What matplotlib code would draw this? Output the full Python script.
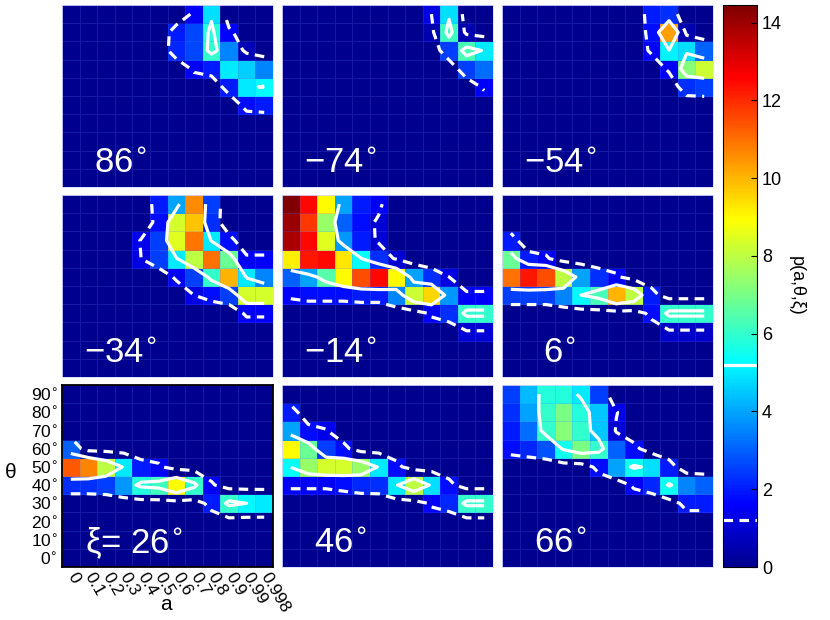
import numpy as np
import matplotlib
matplotlib.use('Agg')
import matplotlib.pyplot as plt
from matplotlib.colors import Normalize, LinearSegmentedColormap
from matplotlib.cm import ScalarMappable

plt.rcParams['font.family'] = ['Liberation Sans', 'DejaVu Sans']

# ---------------- data ----------------
a_labels = ['0', '0.1', '0.2', '0.3', '0.4', '0.5', '0.6', '0.7', '0.8', '0.9', '0.99', '0.998']
theta_labels = [0, 10, 20, 30, 40, 50, 60, 70, 80, 90]
xi_values = [86, -74, -54, -34, -14, 6, 26, 46, 66]
solid_level = 5.2
dashed_level = 1.2
vmax = 14.45

Z0 = [0] * 12
# rows listed from theta = 90 (top) down to theta = 0 (bottom)
p_86 = [
    [0, 0, 0, 0, 0, 0, 0, 1.5, 4.8, 0, 0, 0],
    [0, 0, 0, 0, 0, 0, 2.0, 2.6, 5.8, 1.6, 0, 0],
    [0, 0, 0, 0, 0, 0, 2.2, 2.6, 6.0, 3.5, 0.6, 0],
    [0, 0, 0, 0, 0, 0, 0, 1.5, 2.0, 5.0, 4.6, 3.5],
    [0, 0, 0, 0, 0, 0, 0, 0, 0, 2.0, 5.0, 5.3],
    [0, 0, 0, 0, 0, 0, 0, 0, 0, 0, 1.8, 2.0],
    Z0, Z0, Z0, Z0]
p_m74 = [
    [0, 0, 0, 0, 0, 0, 0, 0, 1.2, 4.8, 0, 0],
    [0, 0, 0, 0, 0, 0, 0, 0, 0.5, 6.2, 0.5, 0],
    [0, 0, 0, 0, 0, 0, 0, 0, 0, 2.5, 6.3, 5.0],
    [0, 0, 0, 0, 0, 0, 0, 0, 0, 0, 2.5, 3.2],
    [0, 0, 0, 0, 0, 0, 0, 0, 0, 0, 0, 1.5],
    Z0, Z0, Z0, Z0, Z0]
p_m54 = [
    [0, 0, 0, 0, 0, 0, 0, 0, 2.0, 2.3, 0, 0],
    [0, 0, 0, 0, 0, 0, 0, 0, 1.8, 10.3, 0.5, 0],
    [0, 0, 0, 0, 0, 0, 0, 0, 1.5, 5.1, 4.8, 3.0],
    [0, 0, 0, 0, 0, 0, 0, 0, 0, 1.5, 7.2, 8.2],
    [0, 0, 0, 0, 0, 0, 0, 0, 0, 0, 2.3, 2.5],
    Z0, Z0, Z0, Z0, Z0]
p_m34 = [
    [0, 0, 0, 0, 0, 2.0, 4.0, 10.6, 2.5, 0, 0, 0],
    [0, 0, 0, 0, 0, 1.8, 8.3, 9.8, 2.3, 0, 0, 0],
    [0, 0, 0, 0, 1.3, 2.5, 8.5, 10.9, 5.0, 1.8, 0, 0],
    [0, 0, 0, 0, 1.2, 2.5, 5.0, 8.0, 11.0, 6.8, 1.5, 1.5],
    [0, 0, 0, 0, 0, 0, 1.5, 2.5, 6.0, 10.0, 5.0, 3.5],
    [0, 0, 0, 0, 0, 0, 0, 1.2, 1.8, 2.5, 8.3, 8.3],
    [0, 0, 0, 0, 0, 0, 0, 0, 0, 0, 1.5, 1.5],
    Z0, Z0, Z0]
p_m14 = [
    [14.4, 12.5, 9.0, 4.0, 2.0, 1.5, 0, 0, 0, 0, 0, 0],
    [14.0, 11.8, 7.5, 3.0, 1.8, 1.0, 0, 0, 0, 0, 0, 0],
    [13.8, 12.5, 8.5, 3.8, 2.0, 1.0, 0, 0, 0, 0, 0, 0],
    [9.2, 12.3, 12.5, 9.3, 5.3, 2.3, 1.0, 0, 0, 0, 0, 0],
    [3.0, 4.0, 6.5, 9.0, 11.5, 12.5, 9.0, 4.0, 2.3, 1.2, 0, 0],
    [1.5, 1.8, 1.8, 1.8, 2.0, 2.0, 3.5, 8.2, 9.5, 3.8, 1.5, 1.5],
    [0, 0, 0, 0, 0, 0, 0, 0, 1.5, 2.3, 6.0, 6.0],
    [0, 0, 0, 0, 0, 0, 0, 0, 0, 0, 1.0, 1.0],
    Z0, Z0]
p_6 = [
    Z0, Z0,
    [2.0, 0, 0, 0, 0, 0, 0, 0, 0, 0, 0, 0],
    [6.8, 2.0, 1.5, 0, 0, 0, 0, 0, 0, 0, 0, 0],
    [11.0, 12.3, 11.5, 8.0, 4.0, 2.3, 1.5, 0, 0, 0, 0, 0],
    [2.5, 2.5, 2.5, 3.5, 5.2, 6.3, 10.0, 8.0, 2.0, 0, 0, 0],
    [0, 0, 0, 0, 0, 0, 0, 0, 1.8, 6.0, 6.0, 6.0],
    [0, 0, 0, 0, 0, 0, 0, 0, 0, 0.8, 0.8, 0.8],
    Z0, Z0]
p_26 = [
    Z0, Z0, Z0,
    [3.0, 0, 0, 0, 0, 0, 0, 0, 0, 0, 0, 0],
    [11.3, 10.7, 8.0, 5.0, 2.0, 1.5, 0, 0, 0, 0, 0, 0],
    [2.3, 2.3, 2.5, 3.8, 5.8, 6.2, 9.0, 6.0, 1.5, 0, 0, 0],
    [0, 0, 0, 0, 0, 0, 0, 0, 2.0, 6.0, 5.2, 5.0],
    Z0, Z0, Z0]
p_46 = [
    Z0,
    [2.0, 0, 0, 0, 0, 0, 0, 0, 0, 0, 0, 0],
    [4.0, 1.8, 1.3, 0, 0, 0, 0, 0, 0, 0, 0, 0],
    [9.0, 6.8, 2.5, 1.8, 0, 0, 0, 0, 0, 0, 0, 0],
    [5.3, 7.5, 8.3, 8.3, 7.5, 5.0, 1.8, 0, 0, 0, 0, 0],
    [1.5, 1.5, 1.5, 1.8, 2.2, 2.3, 5.0, 8.0, 4.8, 1.8, 0, 0],
    [0, 0, 0, 0, 0, 0, 0, 0, 1.5, 2.2, 6.0, 6.0],
    Z0, Z0, Z0]
p_66 = [
    [2.5, 4.3, 5.8, 5.8, 5.0, 2.5, 0, 0, 0, 0, 0, 0],
    [2.3, 4.0, 6.0, 7.0, 5.8, 4.5, 1.3, 0, 0, 0, 0, 0],
    [2.0, 3.2, 6.0, 7.2, 6.0, 4.5, 1.0, 0, 0, 0, 0, 0],
    [1.8, 2.2, 2.8, 5.5, 7.0, 6.0, 3.0, 1.8, 0, 0, 0, 0],
    [0, 0, 0, 0, 0, 1.8, 4.0, 5.5, 4.8, 2.0, 0, 0],
    [0, 0, 0, 0, 0, 0, 0, 1.5, 2.2, 5.5, 3.5, 3.0],
    [0, 0, 0, 0, 0, 0, 0, 0, 0, 0, 2.0, 2.0],
    Z0, Z0, Z0]

panels = [p_86, p_m74, p_m54, p_m34, p_m14, p_6, p_26, p_46, p_66]


# MATLAB-style jet colormap (64 anchors, smoothly interpolated)
def matlab_jet(m=64):
    n = int(np.ceil(m / 4))
    u = np.concatenate([np.arange(1, n + 1) / n, np.ones(n - 1), np.arange(n, 0, -1) / n])
    g = int(np.ceil(n / 2)) - (1 if m % 4 == 1 else 0) + np.arange(1, len(u) + 1)
    r = g + n
    b = g - n
    cols = np.zeros((m, 3))
    for ch, idx in ((0, r), (1, g), (2, b)):
        ok = (idx >= 1) & (idx <= m)
        cols[idx[ok] - 1, ch] = u[ok]
    return LinearSegmentedColormap.from_list('mjet', cols, N=256)


cmap = matlab_jet()

# ---------------- figure ----------------
W, H = 830, 620
fig = plt.figure(figsize=(W / 100, H / 100), dpi=100)

col_x = [62, 282, 502]
row_y = [5, 195, 385]
pw, ph = 211, 182

norm = Normalize(vmin=0, vmax=vmax)

xe = np.arange(len(a_labels) + 1)
ye = np.arange(len(theta_labels) + 1)
xc = np.arange(len(a_labels)) + 0.5
yc = np.arange(len(theta_labels)) + 0.5

for i, (xi, rows) in enumerate(zip(xi_values, panels)):
    r, c = divmod(i, 3)
    ax = fig.add_axes([col_x[c] / W, 1 - (row_y[r] + ph) / H, pw / W, ph / H])
    Z = np.array(rows, dtype=float)[::-1]
    ax.pcolormesh(xe, ye, Z, cmap=cmap, norm=norm,
                  edgecolors=(0.35, 0.45, 1.0, 0.22), linewidth=0.6)
    ax.contour(xc, yc, Z, levels=[dashed_level], colors='white',
               linewidths=2.3, linestyles=[(0, (3, 2))])
    ax.contour(xc, yc, Z, levels=[solid_level], colors='white', linewidths=2.3)
    ax.set_xlim(0, 12)
    ax.set_ylim(0, 10)
    s = (str(xi) if xi >= 0 else '\u2212' + str(-xi)) + r'$^{\circ}$'
    if i == 6:
        ax.text(0.34, 0.075, '\u03be= ' + s, transform=ax.transAxes, ha='center',
                va='baseline', color='white', fontsize=25)
        ax.set_xticks(xc)
        ax.set_xticklabels(a_labels, rotation=-60, ha='left', va='center',
                           rotation_mode='anchor', fontsize=12.5)
        ax.set_yticks(yc)
        ax.set_yticklabels([f'{t}' + r'$^{\circ}$' for t in theta_labels], fontsize=12.5)
        ax.tick_params(axis='x', length=0, pad=5)
        ax.tick_params(axis='y', length=0, pad=3)
        for sp in ax.spines.values():
            sp.set_color('black')
            sp.set_linewidth(1.3)
    else:
        ax.text(0.275, 0.075, s, transform=ax.transAxes, ha='center',
                va='baseline', color='white', fontsize=25)
        ax.set_xticks([])
        ax.set_yticks([])
        for sp in ax.spines.values():
            sp.set_color((0.85, 0.85, 1.0))
            sp.set_linewidth(0.6)

fig.text(11 / W, 1 - 472 / H, '\u03b8', fontsize=15, ha='center', va='center')
fig.text(166 / W, 1 - 605 / H, 'a', fontsize=15, ha='center', va='center')

# colorbar
cax = fig.add_axes([723 / W, 1 - 567 / H, 34 / W, 562 / H])
cb = fig.colorbar(ScalarMappable(norm=norm, cmap=cmap), cax=cax)
cb.set_ticks([0, 2, 4, 6, 8, 10, 12, 14])
cax.tick_params(direction='in', length=4, labelsize=13, right=True, left=False)
cb.outline.set_linewidth(0.8)
cax.axhline(solid_level, color='white', lw=2.3)
cax.axhline(dashed_level, color='white', lw=2.3, ls=(0, (3, 2)))
fig.text(796 / W, 1 - 286 / H, 'p(a,\u03b8,\u03be)', rotation=-90, fontsize=13,
         ha='center', va='center')

fig.savefig('out.png', dpi=100)
